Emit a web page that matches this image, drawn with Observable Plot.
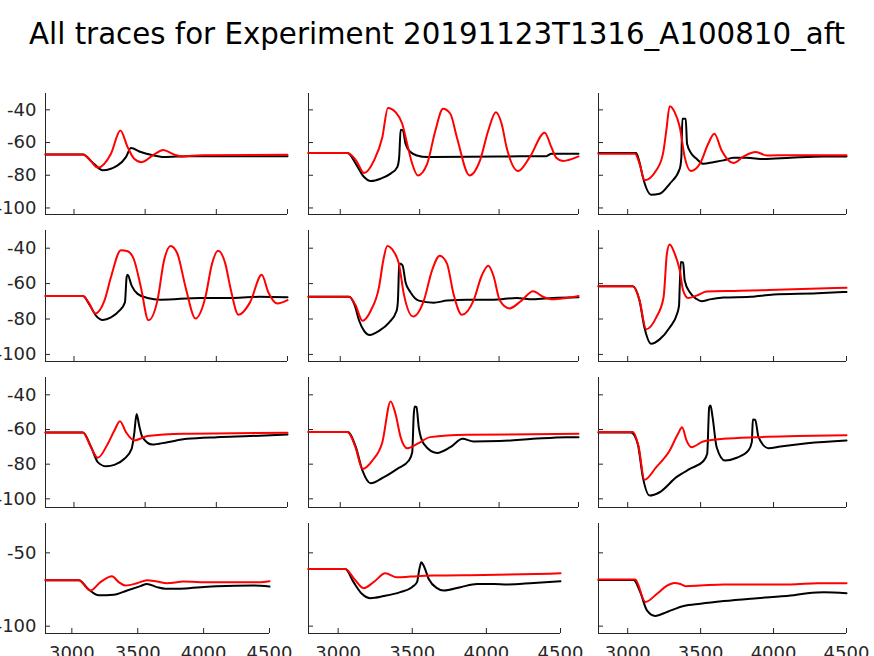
<!DOCTYPE html>
<html><head><meta charset="utf-8">
<script src="https://cdn.jsdelivr.net/npm/d3@7"></script>
<script src="https://cdn.jsdelivr.net/npm/@observablehq/plot@0.6"></script>
<style>
html,body{margin:0;padding:0;background:#fff;overflow:hidden;}
#fig{position:relative;width:874px;height:656px;overflow:hidden;font-family:"DejaVu Sans";}
#title{position:absolute;left:0;width:874px;top:17px;text-align:center;font-size:29.3px;color:#000;white-space:nowrap;}
.panel{position:absolute;}
</style></head>
<body><div id="fig"><div id="title">All traces for Experiment 20191123T1316_A100810_aft</div></div>
<script>
// ---- data (time in ms, membrane potential in mV) ----
const xTicks = [3000, 3500, 4000, 4500];
const yTicksUpper = [-40, -60, -80, -100];
const yTicksLower = [-50, -100];
const xDomain = [2800, 4500];
const yDomains = [[-104, -30], [-104, -30], [-105, -30], [-105, -30]];

const p11Black = [[2800,-67.3],[3063,-67.3],[3140,-73],[3202,-77],[3307,-74],[3365,-68.9],[3400,-63.4],[3470,-65.8],[3540,-67.5],[3633,-68.9],[3800,-68.3],[4000,-68.3],[4500,-68.3]];
const p11Red = [[2800,-67.3],[3063,-67.3],[3110,-70.5],[3167,-75.4],[3260,-66.8],[3326,-52.6],[3377,-62.8],[3423,-69.9],[3475,-72],[3563,-67.3],[3626,-64.6],[3702,-67.3],[3761,-68.5],[3900,-67.7],[4500,-67.5]];

const p12Black = [[2800,-66.4],[3046,-66.4],[3098,-73],[3150,-81.1],[3192,-83.5],[3254,-82.1],[3317,-79],[3359,-75],[3371,-68.9],[3380,-52.2],[3394,-52.6],[3411,-60.7],[3442,-65.8],[3484,-67.9],[3547,-68.9],[4000,-68.5],[4297,-68.3],[4330,-66.8],[4500,-66.8]];
const p12Red = [[2800,-66.4],[3046,-66.4],[3100,-71],[3150,-78.6],[3213,-70.9],[3265,-56.7],[3300,-38.8],[3348,-41.4],[3390,-48.5],[3421,-60.7],[3453,-73],[3488,-80.1],[3547,-73],[3599,-52.6],[3647,-39.4],[3693,-42.4],[3734,-56.7],[3814,-80.1],[3880,-70.9],[3932,-52.6],[3980,-41.4],[4016,-48.5],[4047,-62.8],[4120,-77.4],[4193,-68.9],[4287,-54],[4329,-62.8],[4360,-69.3],[4402,-71.3],[4500,-68.5]];

const p13Black = [[2800,-66.4],[3058,-66.4],[3081,-72],[3104,-81.1],[3161,-91.9],[3219,-91.3],[3288,-85.2],[3357,-76],[3368,-68.9],[3375,-45.5],[3398,-45.5],[3407,-60.7],[3437,-66.8],[3472,-69.9],[3518,-73],[3587,-72],[3656,-70.9],[3725,-69.3],[3817,-69.3],[3932,-70.1],[4116,-69.3],[4346,-68.5],[4500,-68.5]];
const p13Red = [[2800,-66.8],[3050,-66.8],[3085,-74],[3115,-83.1],[3196,-77],[3242,-66.8],[3265,-52.6],[3288,-37.8],[3322,-41.4],[3357,-50.5],[3391,-68.9],[3433,-77.4],[3495,-73],[3552,-60.7],[3594,-54.6],[3644,-64.8],[3725,-72.5],[3794,-68.5],[3879,-65.8],[3955,-67.9],[4116,-67.7],[4500,-67.7]];

const p21Black = [[2800,-67],[3063,-67],[3110,-72],[3156,-78.2],[3202,-80.5],[3260,-79.1],[3319,-75.3],[3358,-70.6],[3370,-56.3],[3377,-55],[3405,-61.1],[3447,-65.8],[3516,-68.1],[3609,-69.1],[3888,-68.1],[4121,-68.1],[4307,-67.4],[4500,-67.7]];
const p21Red = [[2800,-67],[3063,-67],[3105,-71],[3149,-76.9],[3214,-69.6],[3260,-56.3],[3330,-41.1],[3377,-41.7],[3423,-46.8],[3470,-62],[3523,-80.7],[3586,-69.6],[3633,-46.8],[3679,-38.7],[3726,-43],[3784,-62],[3854,-79.7],[3923,-67.7],[3970,-48.7],[4012,-41.5],[4063,-48.7],[4098,-62],[4156,-77.6],[4237,-70.6],[4319,-55],[4365,-64.9],[4428,-71.2],[4500,-69.3]];

const p22Black = [[2800,-67.4],[3056,-67.4],[3090,-72],[3119,-81],[3150,-86.7],[3186,-89],[3244,-86.7],[3307,-82],[3355,-75.3],[3363,-69.6],[3371,-49.7],[3375,-48.7],[3392,-49.7],[3411,-59.2],[3442,-64.9],[3494,-69.6],[3588,-70.8],[3672,-69.6],[3797,-69.1],[3964,-69.1],[4110,-68.1],[4214,-68.9],[4339,-68.1],[4500,-67.7]];
const p22Red = [[2800,-67.4],[3056,-67.4],[3095,-72],[3140,-81],[3192,-75.3],[3244,-62],[3271,-46.8],[3296,-38.7],[3338,-42.1],[3369,-48.7],[3400,-65.8],[3459,-78.6],[3526,-69.6],[3578,-52.5],[3626,-44.2],[3672,-48.7],[3713,-65.8],[3766,-77.6],[3839,-69.6],[3891,-55.4],[3932,-49.9],[3964,-55.4],[4005,-69.6],[4064,-74],[4141,-69.6],[4214,-64.3],[4277,-67.4],[4339,-68.9],[4423,-68.1],[4500,-67]];

const p23Black = [[2800,-61.5],[3035,-61.5],[3081,-69.6],[3115,-84.8],[3161,-94],[3219,-91.5],[3288,-84.8],[3338,-77.2],[3352,-72.5],[3357,-61.1],[3364,-47.8],[3380,-48.2],[3391,-58.2],[3426,-64.9],[3472,-68.7],[3506,-70],[3564,-68.9],[3656,-67.9],[3840,-67.4],[4001,-66.2],[4300,-65.5],[4500,-64.7]];
const p23Red = [[2800,-61.5],[3035,-61.5],[3080,-69],[3127,-85.8],[3196,-79.1],[3246,-67.7],[3269,-43],[3288,-37.9],[3322,-43],[3357,-52.5],[3380,-63.8],[3414,-68.1],[3472,-66.8],[3541,-64.5],[3771,-64.1],[4024,-63.4],[4500,-62.4]];

const p31Black = [[2800,-61.7],[3063,-61.7],[3121,-70.2],[3167,-78.8],[3226,-81.2],[3284,-80.4],[3354,-76.9],[3405,-71.2],[3423,-62.5],[3440,-51],[3458,-57.7],[3481,-64.4],[3551,-68.7],[3656,-67.3],[3795,-65.4],[4005,-64.4],[4237,-63.8],[4500,-62.9]];
const p31Red = [[2800,-61.7],[3063,-61.7],[3115,-69.5],[3167,-76.3],[3237,-68.3],[3284,-60.6],[3323,-55.2],[3365,-61.5],[3423,-66.3],[3516,-63.8],[3772,-62.5],[4500,-61.9]];

const p32Black = [[2800,-61.5],[3046,-61.5],[3098,-70.2],[3140,-83.7],[3192,-91],[3275,-87.5],[3359,-82.7],[3432,-77.9],[3453,-73.1],[3463,-51],[3469,-46.7],[3480,-47.1],[3494,-58.7],[3526,-68.3],[3609,-73.5],[3693,-70.2],[3770,-65.4],[3839,-66.9],[4005,-66.7],[4214,-65.4],[4423,-64.4],[4500,-64.4]];
const p32Red = [[2800,-61.5],[3046,-61.5],[3095,-70],[3140,-82.7],[3202,-77.9],[3265,-67.3],[3317,-43.8],[3348,-51],[3380,-64.4],[3421,-70.8],[3484,-68.3],[3567,-64.4],[3797,-63.1],[4500,-62.5]];

const p33Black = [[2800,-61.7],[3023,-61.7],[3069,-68.3],[3104,-87.5],[3150,-98.1],[3219,-96.2],[3334,-87.5],[3426,-82.7],[3518,-78.3],[3545,-74],[3559,-47.1],[3568,-46.2],[3582,-52.9],[3610,-70.2],[3667,-77.9],[3748,-76.3],[3828,-72.1],[3851,-67.3],[3858,-54.2],[3874,-54.4],[3897,-64.4],[3966,-70.8],[4047,-69.8],[4231,-67.9],[4500,-66.3]];
const p33Red = [[2800,-61.5],[3035,-61.5],[3075,-70],[3115,-89],[3196,-81.7],[3288,-72.1],[3345,-62.5],[3373,-58.7],[3403,-66.3],[3437,-70.2],[3518,-66.9],[3656,-65.4],[3886,-64.4],[4162,-63.8],[4500,-63.3]];

const p41Black = [[2800,-68.7],[3053,-68.7],[3128,-75],[3204,-79],[3318,-78.6],[3419,-75.7],[3520,-72.7],[3570,-71.2],[3646,-73.4],[3709,-74.5],[3823,-74.5],[3975,-73.4],[4101,-72.7],[4379,-72.3],[4500,-73]];
const p41Red = [[2800,-68.7],[3053,-68.7],[3141,-75.7],[3217,-70],[3305,-66],[3356,-70],[3406,-72.3],[3495,-70.7],[3570,-68.7],[3646,-69.6],[3722,-70.7],[3848,-69.6],[3975,-70],[4429,-70],[4500,-69.4]];

const p42Black = [[2800,-61],[3048,-61],[3104,-70],[3160,-77.9],[3217,-80.9],[3307,-79.5],[3419,-76.8],[3498,-73.4],[3532,-70],[3548,-61],[3561,-56.5],[3577,-58.8],[3611,-67.8],[3667,-74.1],[3712,-75.7],[3825,-73.4],[3937,-71.2],[4050,-71.2],[4140,-71.6],[4320,-70.5],[4500,-69.4]];
const p42Red = [[2800,-61],[3048,-61],[3110,-68],[3172,-74.1],[3239,-70],[3318,-64],[3397,-66.7],[3487,-66.2],[3644,-65.5],[3982,-65.1],[4500,-64]];

const p43Black = [[2800,-68.5],[3041,-68.5],[3086,-76.8],[3132,-89.2],[3189,-93],[3270,-90.3],[3384,-86.3],[3499,-84.7],[3659,-82.9],[3888,-80.9],[4117,-79.1],[4232,-77.5],[4346,-76.8],[4500,-77.5]];
const p43Red = [[2800,-68.2],[3052,-68.2],[3121,-83.5],[3201,-77.9],[3270,-72.3],[3320,-70.5],[3361,-71.2],[3396,-72.7],[3499,-72.3],[3659,-71.6],[4117,-71.6],[4301,-70.7],[4500,-70.7]];

const panels = [
  [[p11Black, p11Red], [p12Black, p12Red], [p13Black, p13Red]],
  [[p21Black, p21Red], [p22Black, p22Red], [p23Black, p23Red]],
  [[p31Black, p31Red], [p32Black, p32Red], [p33Black, p33Red]],
  [[p41Black, p41Red], [p42Black, p42Red], [p43Black, p43Red]]
];

// ---- layout (pixels) ----
const colLeft = [45, 308, 598];
const colRightUpper = [287, 578, 846];
const colRightLower = [269, 560, 846];
const rowTop = [93, 230, 377, 523];
const rowBottom = [214, 361, 507, 633];
const axisColor = "#262626";

const fig = document.getElementById("fig");
panels.forEach((row, r) => {
  row.forEach(([black, red], c) => {
    const left = colLeft[c];
    const right = (r === 3 ? colRightLower : colRightUpper)[c];
    const top = rowTop[r], bottom = rowBottom[r];
    const yDom = yDomains[r];
    const ml = c === 0 ? 45 : 2;
    const mr = r === 3 ? 27 : 3;
    const mt = 3;
    const mb = r === 3 ? 656 - bottom : 3;
    const chart = Plot.plot({
      width: right - left + ml + mr,
      height: bottom - top + mt + mb,
      marginLeft: ml, marginRight: mr, marginTop: mt, marginBottom: mb,
      x: {domain: xDomain},
      y: {domain: yDom},
      style: {fontFamily: "DejaVu Sans", fontSize: "18px", color: axisColor, background: "transparent", overflow: "hidden"},
      marks: [
        Plot.axisX({ticks: xTicks, tickSize: -5, tickPadding: 18, label: null,
          tickFormat: r === 3 ? (d) => String(d) : () => ""}),
        Plot.axisY({ticks: r === 3 ? yTicksLower : yTicksUpper, tickSize: -5, tickPadding: 14, label: null,
          tickFormat: c === 0 ? (d) => String(d) : () => ""}),
        Plot.ruleX([xDomain[0]], {stroke: axisColor, strokeWidth: 1}),
        Plot.ruleY([yDom[0]], {stroke: axisColor, strokeWidth: 1}),
        Plot.line(black, {x: (d) => d[0], y: (d) => d[1], stroke: "black", strokeWidth: 2, curve: "monotone-x"}),
        Plot.line(red, {x: (d) => d[0], y: (d) => d[1], stroke: "red", strokeWidth: 2, curve: "monotone-x"})
      ]
    });
    const div = document.createElement("div");
    div.className = "panel";
    div.style.left = (left - ml) + "px";
    div.style.top = (top - mt) + "px";
    div.appendChild(chart);
    fig.appendChild(div);
  });
});
</script>
</body></html>
